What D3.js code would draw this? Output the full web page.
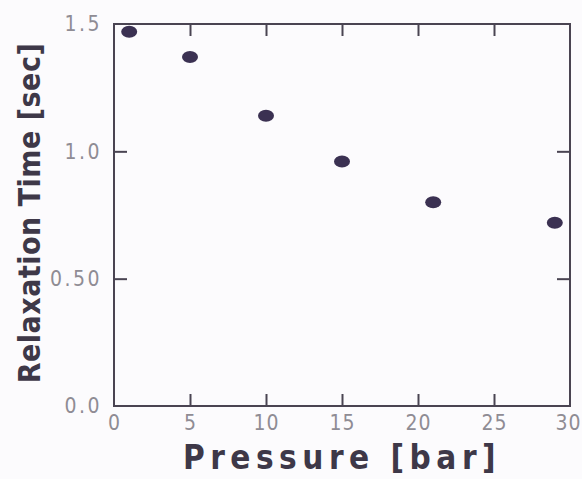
<!DOCTYPE html>
<html>
<head>
<meta charset="utf-8">
<script src="https://cdn.jsdelivr.net/npm/d3@7"></script>
<style>
  html, body { margin: 0; padding: 0; background: #fcfbfd; }
  svg { display: block; }
  .tick-label { font-family: "Liberation Sans Narrow", "DejaVu Sans Condensed", "Liberation Sans", sans-serif; font-size: 21px; fill: #8f8c94; letter-spacing: 2.5px; }
  .axis-title { font-family: "Liberation Sans Narrow", "DejaVu Sans Condensed", "Liberation Sans", sans-serif; font-weight: bold; fill: #3e3848; }
</style>
</head>
<body>
<script>
// Relaxation time measured at each applied pressure
const pressure = [1, 5, 10, 15, 21, 29];          // bar
const relaxTime = [1.47, 1.37, 1.14, 0.96, 0.80, 0.72]; // sec

const xTickValues = [0, 5, 10, 15, 20, 25, 30];
const xTickLabels = ["0", "5", "10", "15", "20", "25", "30"];
const yTickValues = [0, 0.5, 1.0, 1.5];
const yTickLabels = ["0.0", "0.50", "1.0", "1.5"];

const xTitle = "Pressure [bar]";
const yTitle = "Relaxation Time [sec]";

const W = 582, H = 479;
const margin = { top: 24, right: 12, bottom: 73, left: 114 };
const iw = W - margin.left - margin.right;
const ih = H - margin.top - margin.bottom;
const axisColor = "#4a4452";
const markColor = "#3b3152";

const svg = d3.select("body").append("svg")
  .attr("width", W).attr("height", H);

svg.append("rect").attr("width", W).attr("height", H).attr("fill", "#fcfbfd");

const g = svg.append("g").attr("transform", `translate(${margin.left},${margin.top})`);

const x = d3.scaleLinear().domain([0, 30]).range([0, iw]);
const y = d3.scaleLinear().domain([0, 1.5]).range([ih, 0]);

const xInterior = xTickValues.filter(v => v > 0 && v < 30);
const yInterior = yTickValues.filter(v => v > 0 && v < 1.5);

function styleAxis(sel) {
  sel.select(".domain").remove();
  sel.selectAll(".tick line").attr("stroke", axisColor).attr("stroke-width", 2);
  sel.selectAll(".tick text").attr("class", "tick-label").attr("fill", null);
}

// bottom axis: inward ticks, labels on every value
const bottom = g.append("g").attr("transform", `translate(0,${ih})`)
  .call(d3.axisBottom(x).tickValues(xTickValues)
    .tickFormat((d, i) => xTickLabels[i]).tickSizeInner(-12).tickSizeOuter(0).tickPadding(9))
  .call(styleAxis);
bottom.selectAll(".tick").filter(d => d === 0 || d === 30).select("line").remove();
bottom.selectAll(".tick text").style("letter-spacing", "1px");
bottom.selectAll(".tick").filter(d => d === 30).select("text").attr("dx", "-2px");

// left axis
const left = g.append("g")
  .call(d3.axisLeft(y).tickValues(yTickValues)
    .tickFormat((d, i) => yTickLabels[i]).tickSizeInner(-13).tickSizeOuter(0).tickPadding(12))
  .call(styleAxis);
left.selectAll(".tick").filter(d => d === 0 || d === 1.5).select("line").remove();

// top and right axes: ticks only
g.append("g")
  .call(d3.axisTop(x).tickValues(xInterior).tickFormat("").tickSizeInner(-12).tickSizeOuter(0))
  .call(styleAxis);
g.append("g").attr("transform", `translate(${iw},0)`)
  .call(d3.axisRight(y).tickValues(yInterior).tickFormat("").tickSizeInner(-13).tickSizeOuter(0))
  .call(styleAxis);

// frame
g.append("rect").attr("width", iw).attr("height", ih)
  .attr("fill", "none").attr("stroke", axisColor).attr("stroke-width", 2);

// data points
g.selectAll("ellipse.pt").data(pressure.map((p, i) => [p, relaxTime[i]]))
  .join("ellipse").attr("class", "pt")
  .attr("cx", d => x(d[0])).attr("cy", d => y(d[1]))
  .attr("rx", 8).attr("ry", 6)
  .attr("fill", markColor);

// axis titles
svg.append("text").attr("class", "axis-title")
  .attr("x", 342).attr("y", 469)
  .attr("text-anchor", "middle")
  .style("font-size", "33px").style("letter-spacing", "5.5px")
  .text(xTitle);

svg.append("text").attr("class", "axis-title")
  .attr("transform", `translate(40,${213}) rotate(-90)`)
  .attr("text-anchor", "middle")
  .style("font-size", "30px").style("letter-spacing", "0.5px")
  .text(yTitle);
</script>
</body>
</html>
